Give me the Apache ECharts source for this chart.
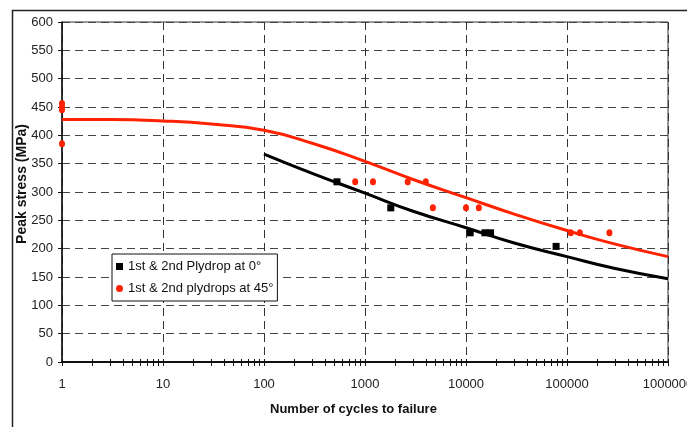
<!DOCTYPE html>
<html>
<head>
<meta charset="utf-8">
<script src="https://cdn.jsdelivr.net/npm/echarts@6/dist/echarts.min.js"></script>
<style>
html,body{margin:0;padding:0;background:#fff;}
#chart{width:687px;height:427px;}
</style>
</head>
<body>
<div id="chart"></div>
<script>
// ---- data ----
var yTicks = [0, 50, 100, 150, 200, 250, 300, 350, 400, 450, 500, 550, 600];
var xTickLabels = ['1', '10', '100', '1000', '10000', '100000', '1000000'];
var xMinorTicks = [1,2,3,4,5,6,7,8,9,10,20,30,40,50,60,70,80,90,100,200,300,400,500,600,700,800,900,1000,2000,3000,4000,5000,6000,7000,8000,9000,10000,20000,30000,40000,50000,60000,70000,80000,90000,100000,200000,300000,400000,500000,600000,700000,800000,900000,1000000];
var series0Name = '1st & 2nd Plydrop at 0°';
var series45Name = '1st & 2nd plydrops at 45°';
var cycles0 = [528, 1800, 11000, 15400, 17500, 78000];
var stress0 = [318, 272, 228, 228, 228, 204];
var cycles45 = [1, 1, 1, 1, 800, 1200, 2650, 4000, 4700, 10000, 13400, 109000, 134000, 263000];
var stress45 = [456, 450, 445, 385, 318, 318, 318, 318, 272, 272, 272, 228, 228, 228];
var fit45X = [1, 3, 10, 30, 100, 300, 1000, 3000, 10000, 30000, 100000, 300000, 1000000];
var fit45Y = [428, 428, 425.5, 420, 409, 386, 354, 322, 290, 261, 232, 208, 186];
var fit0X = [100, 300, 1000, 3000, 10000, 30000, 100000, 300000, 1000000];
var fit0Y = [367, 333, 298, 266, 237, 210, 186, 165, 147];

function zip(a, b) { return a.map(function (v, i) { return [v, b[i]]; }); }

var chart = echarts.init(document.getElementById('chart'));
var FONT = '"Liberation Sans", Arial, sans-serif';
var RED = '#ff2200';

var option = {
  animation: false,
  textStyle: { fontFamily: FONT },
  grid: { left: 62, right: 19, top: 22, bottom: 65, outerBoundsMode: 'none', containLabel: false,
          show: true, borderColor: '#333', borderWidth: 1, backgroundColor: 'transparent' },
  graphic: [
    { type: 'rect', left: 10, top: 8, shape: { x: 0, y: 0, width: 700, height: 440 }, style: { fill: 'none', stroke: '#222', lineWidth: 1.5 }, silent: true, z: 100 },
    { type: 'text', left: 270, top: 403, style: { text: 'Number of cycles to failure', font: 'bold 13px ' + FONT, fill: '#111' } },
    { type: 'text', x: 22, y: 184, rotation: Math.PI / 2, style: { text: 'Peak stress (MPa)', font: 'bold 14px ' + FONT, fill: '#111', align: 'center', verticalAlign: 'middle' } }
  ],
  legend: {
    orient: 'vertical', left: 112, top: 254,
    padding: [6, 4, 6, 4], itemGap: 9,
    itemWidth: 7, itemHeight: 7,
    backgroundColor: '#fff', borderColor: '#111', borderWidth: 1,
    textStyle: { fontSize: 13, color: '#111', fontFamily: FONT },
    data: [
      { name: series0Name, icon: 'rect' },
      { name: series45Name, icon: 'circle' }
    ]
  },
  xAxis: [
    {
      type: 'log', logBase: 10, min: 1, max: 1000000,
      axisLine: { lineStyle: { color: '#111', width: 2 } },
      axisTick: { show: false },
      axisLabel: { fontSize: 13, color: '#222', margin: 16, fontFamily: FONT,
        formatter: function (v) { var s = String(Math.round(v)); return xTickLabels.indexOf(s) >= 0 ? s : ''; } },
      splitLine: { show: true, lineStyle: { color: '#333', type: [8, 5], width: 1 } }
    },
    {
      type: 'log', logBase: 10, min: 1, max: 1000000, position: 'bottom',
      axisLine: { show: false },
      axisTick: { show: true, length: 4, lineStyle: { color: '#111' }, customValues: xMinorTicks },
      axisLabel: { show: false },
      splitLine: { show: false }
    },
    {
      type: 'log', logBase: 10, min: 1, max: 1000000, position: 'bottom',
      axisLine: { show: false },
      axisTick: { show: true, inside: true, length: 3, lineStyle: { color: '#111' }, customValues: xMinorTicks },
      axisLabel: { show: false },
      splitLine: { show: false }
    }
  ],
  yAxis: {
    type: 'value', min: 0, max: 600, interval: 50,
    axisLine: { show: true, lineStyle: { color: '#111', width: 1.5 } },
    axisTick: { show: true, length: 4, lineStyle: { color: '#111' } },
    axisLabel: { fontSize: 13, color: '#222', margin: 9, fontFamily: FONT,
      formatter: function (v) { return yTicks.indexOf(v) >= 0 ? String(v) : ''; } },
    splitLine: { show: true, lineStyle: { color: '#444', type: [8, 5], width: 1 } }
  },
  series: [
    { name: 'fit45', type: 'line', smooth: 0.5, showSymbol: false, symbol: 'none', data: zip(fit45X, fit45Y),
      lineStyle: { color: RED, width: 3 }, itemStyle: { color: RED }, z: 3 },
    { name: 'fit0', type: 'line', smooth: 0.5, showSymbol: false, symbol: 'none', data: zip(fit0X, fit0Y),
      lineStyle: { color: '#000', width: 3 }, itemStyle: { color: '#000' }, z: 3 },
    { name: series0Name, type: 'scatter', symbol: 'rect', symbolSize: 7, data: zip(cycles0, stress0),
      itemStyle: { color: '#000', opacity: 1 }, clip: false, z: 4 },
    { name: series45Name, type: 'scatter', symbol: 'circle', symbolSize: [6, 7], data: zip(cycles45, stress45),
      itemStyle: { color: RED, opacity: 1 }, clip: false, z: 4 }
  ]
};
chart.setOption(option);
</script>
</body>
</html>
